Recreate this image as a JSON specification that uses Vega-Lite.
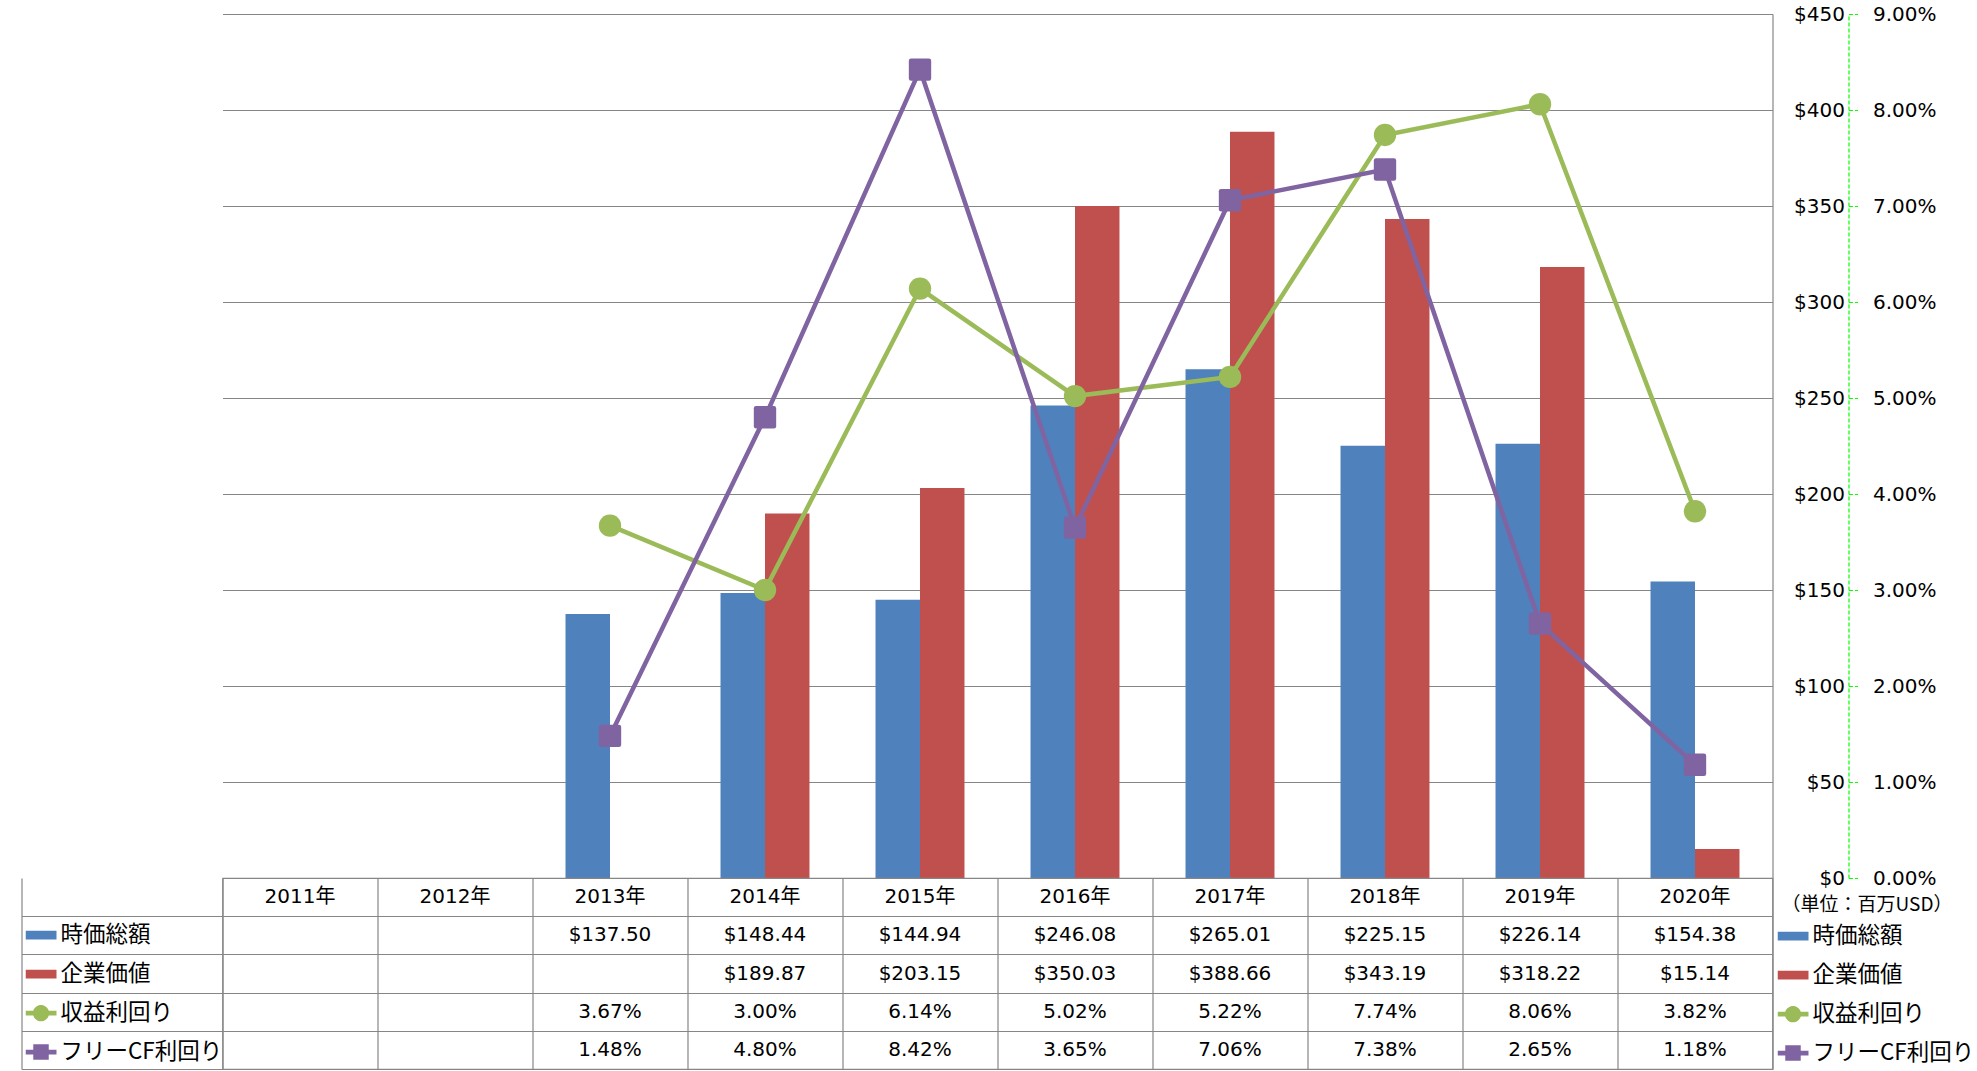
{
  "$schema": "https://vega.github.io/schema/vega-lite/v6.json",
  "background": "white",
  "padding": {"left": 19.5, "top": 4, "right": 0, "bottom": 0},
  "spacing": 0,
  "bounds": "flush",
  "config": {
    "view": {"stroke": null},
    "font": "DejaVu Sans",
    "axis": {"labelFont": "DejaVu Sans", "labelFontSize": 20, "labelColor": "#000000", "titleFont": "Noto Sans CJK JP", "titleColor": "#000000"},
    "legend": {"labelFont": "Noto Sans CJK JP", "labelFontSize": 22.5, "labelColor": "#000000", "labelLimit": 400, "symbolSize": 961, "labelOffset": 4, "clipHeight": 38.2, "rowPadding": 0, "padding": 0, "symbolStrokeWidth": 0, "title": null}
  },
  "datasets": {
    "d": [
      {"year": "2011年", "時価総額": null, "企業価値": null, "収益利回り": null, "フリーCF利回り": null},
      {"year": "2012年", "時価総額": null, "企業価値": null, "収益利回り": null, "フリーCF利回り": null},
      {"year": "2013年", "時価総額": 137.50, "企業価値": null, "収益利回り": 0.0367, "フリーCF利回り": 0.0148},
      {"year": "2014年", "時価総額": 148.44, "企業価値": 189.87, "収益利回り": 0.0300, "フリーCF利回り": 0.0480},
      {"year": "2015年", "時価総額": 144.94, "企業価値": 203.15, "収益利回り": 0.0614, "フリーCF利回り": 0.0842},
      {"year": "2016年", "時価総額": 246.08, "企業価値": 350.03, "収益利回り": 0.0502, "フリーCF利回り": 0.0365},
      {"year": "2017年", "時価総額": 265.01, "企業価値": 388.66, "収益利回り": 0.0522, "フリーCF利回り": 0.0706},
      {"year": "2018年", "時価総額": 225.15, "企業価値": 343.19, "収益利回り": 0.0774, "フリーCF利回り": 0.0738},
      {"year": "2019年", "時価総額": 226.14, "企業価値": 318.22, "収益利回り": 0.0806, "フリーCF利回り": 0.0265},
      {"year": "2020年", "時価総額": 154.38, "企業価値": 15.14, "収益利回り": 0.0382, "フリーCF利回り": 0.0118}
    ]
  },
  "resolve": {"scale": {"color": "independent"}, "legend": {"color": "independent"}},
  "vconcat": [
    {
      "width": 1550,
      "height": 864,
      "data": {"name": "d"},
      "layer": [
        {
          "transform": [{"fold": ["時価総額", "企業価値"], "as": ["series", "value"]}, {"filter": "datum.value != null"}],
          "mark": {"type": "bar"},
          "encoding": {
            "x": {"field": "year", "type": "nominal", "sort": null, "scale": {"domain": ["2011年", "2012年", "2013年", "2014年", "2015年", "2016年", "2017年", "2018年", "2019年", "2020年"], "paddingInner": 0.426, "paddingOuter": 0.213}, "axis": null},
            "xOffset": {"field": "series", "type": "nominal", "scale": {"domain": ["時価総額", "企業価値"], "paddingInner": 0, "paddingOuter": 0}},
            "y": {"field": "value", "type": "quantitative", "scale": {"domain": [0, 450], "nice": false},
              "axis": {"orient": "right", "values": [0, 50, 100, 150, 200, 250, 300, 350, 400, 450], "format": "$.0f", "grid": true, "gridColor": "#868686", "gridWidth": 1.2, "domain": true, "domainColor": "#868686", "domainWidth": 1.2, "ticks": false, "tickSize": 0, "labelAlign": "right", "labelPadding": 72,
                "title": "（単位：百万USD）", "titleAngle": 0, "titleX": 94, "titleY": 890, "titleAlign": "center", "titleBaseline": "middle", "titleFontSize": 19, "titleFontWeight": "normal"}},
            "color": {"field": "series", "type": "nominal",
              "scale": {"domain": ["時価総額", "企業価値", "収益利回り", "フリーCF利回り"], "range": ["#4F81BD", "#C0504D", "#9BBB59", "#8064A2"]},
              "legend": {"orient": "none", "legendX": 1555, "legendY": 903,
                "encode": {"symbols": {"update": {
                  "shape": {"signal": "datum.value === '時価総額' || datum.value === '企業価値' ? 'M-1,-0.28H1V0.28H-1Z' : datum.value === '収益利回り' ? 'M-1,-0.15H-0.5A0.52,0.52,0,0,1,0.5,-0.15H1V0.15H0.5A0.52,0.52,0,0,1,-0.5,0.15H-1Z' : 'M-1,-0.15H-0.5V-0.5H0.5V-0.15H1V0.15H0.5V0.5H-0.5V0.15H-1Z'"},
                  "fill": {"signal": "datum.value === '時価総額' ? '#4F81BD' : datum.value === '企業価値' ? '#C0504D' : datum.value === '収益利回り' ? '#9BBB59' : '#8064A2'"},
                  "fillOpacity": {"value": 1}, "opacity": {"value": 1}, "strokeWidth": {"value": 0}}}}}}
          }
        },
        {
          "transform": [{"fold": ["収益利回り", "フリーCF利回り"], "as": ["series", "value"]}, {"filter": "datum.value != null"}],
          "encoding": {
            "x": {"field": "year", "type": "nominal", "sort": null, "axis": null},
            "y": {"field": "value", "type": "quantitative", "scale": {"domain": [0, 0.09], "nice": false},
              "axis": {"orient": "right", "offset": 76, "values": [0, 0.01, 0.02, 0.03, 0.04, 0.05, 0.06, 0.07, 0.08, 0.09], "format": ".2%", "grid": false, "domain": true, "domainColor": "#00FF00", "domainDash": [4, 2], "domainWidth": 1.2, "ticks": true, "tickColor": "#00FF00", "tickDash": [4, 2], "tickSize": 9, "tickWidth": 1.2, "labelPadding": 15, "title": null}},
            "color": {"field": "series", "type": "nominal"}
          },
          "layer": [
            {"mark": {"type": "line", "strokeWidth": 4.5}},
            {"mark": {"type": "point", "filled": true, "opacity": 1, "size": 500},
              "encoding": {"shape": {"field": "series", "type": "nominal", "scale": {"domain": ["収益利回り", "フリーCF利回り"], "range": ["circle", "M-0.8,-1H0.8Q1,-1,1,-0.8V0.8Q1,1,0.8,1H-0.8Q-1,1,-1,0.8V-0.8Q-1,-1,-0.8,-1Z"]}, "legend": null}}}
          ]
        }
      ],
      "resolve": {"scale": {"y": "independent"}}
    },
    {
      "width": 1550,
      "height": 191,
      "view": {"stroke": "#868686", "strokeWidth": 1.2},
      "data": {"name": "d"},
      "encoding": {
        "x": {"field": "year", "type": "nominal", "sort": null, "scale": {"domain": ["2011年", "2012年", "2013年", "2014年", "2015年", "2016年", "2017年", "2018年", "2019年", "2020年"], "paddingInner": 0, "paddingOuter": 0},
          "axis": {"orient": "bottom", "labels": false, "ticks": false, "domain": false, "grid": true, "gridColor": "#868686", "gridWidth": 1.2, "tickBand": "extent", "title": null}}
      },
      "layer": [
        {
          "transform": [{"fold": ["時価総額", "企業価値", "収益利回り", "フリーCF利回り"], "as": ["series", "value"]}],
          "mark": {"type": "bar", "opacity": 0},
          "encoding": {
            "y": {"field": "series", "type": "nominal", "scale": {"domain": ["hdr", "時価総額", "企業価値", "収益利回り", "フリーCF利回り"], "paddingInner": 0, "paddingOuter": 0},
              "axis": {"orient": "left", "offset": 201, "values": ["時価総額", "企業価値", "収益利回り", "フリーCF利回り"], "labels": false, "ticks": true, "tickSize": -201, "tickColor": "#868686", "tickWidth": 1.2, "domain": true, "domainColor": "#868686", "domainWidth": 1.2, "grid": true, "gridColor": "#868686", "gridWidth": 1.2, "tickBand": "extent", "title": null}},
            "color": {"field": "series", "type": "nominal",
              "scale": {"domain": ["時価総額", "企業価値", "収益利回り", "フリーCF利回り"], "range": ["#4F81BD", "#C0504D", "#9BBB59", "#8064A2"]},
              "legend": {"orient": "none", "legendX": -197, "legendY": 38,
                "encode": {"symbols": {"update": {
                  "shape": {"signal": "datum.value === '時価総額' || datum.value === '企業価値' ? 'M-1,-0.28H1V0.28H-1Z' : datum.value === '収益利回り' ? 'M-1,-0.15H-0.5A0.52,0.52,0,0,1,0.5,-0.15H1V0.15H0.5A0.52,0.52,0,0,1,-0.5,0.15H-1Z' : 'M-1,-0.15H-0.5V-0.5H0.5V-0.15H1V0.15H0.5V0.5H-0.5V0.15H-1Z'"},
                  "fill": {"signal": "datum.value === '時価総額' ? '#4F81BD' : datum.value === '企業価値' ? '#C0504D' : datum.value === '収益利回り' ? '#9BBB59' : '#8064A2'"},
                  "fillOpacity": {"value": 1}, "opacity": {"value": 1}, "strokeWidth": {"value": 0}}}}}}
          }
        },
        {
          "mark": {"type": "text", "fontSize": 20, "font": "DejaVu Sans, Noto Sans CJK JP", "color": "#000000"},
          "encoding": {
            "y": {"datum": "hdr", "type": "nominal"},
            "text": {"field": "year"}
          }
        },
        {
          "transform": [{"fold": ["時価総額", "企業価値", "収益利回り", "フリーCF利回り"], "as": ["series", "value"]}, {"filter": "datum.value != null"},
            {"calculate": "datum.series === '時価総額' || datum.series === '企業価値' ? format(datum.value, '$.2f') : format(datum.value, '.2%')", "as": "label"}],
          "mark": {"type": "text", "fontSize": 20, "font": "DejaVu Sans", "color": "#000000"},
          "encoding": {
            "y": {"field": "series", "type": "nominal"},
            "text": {"field": "label"}
          }
        }
      ]
    }
  ]
}
